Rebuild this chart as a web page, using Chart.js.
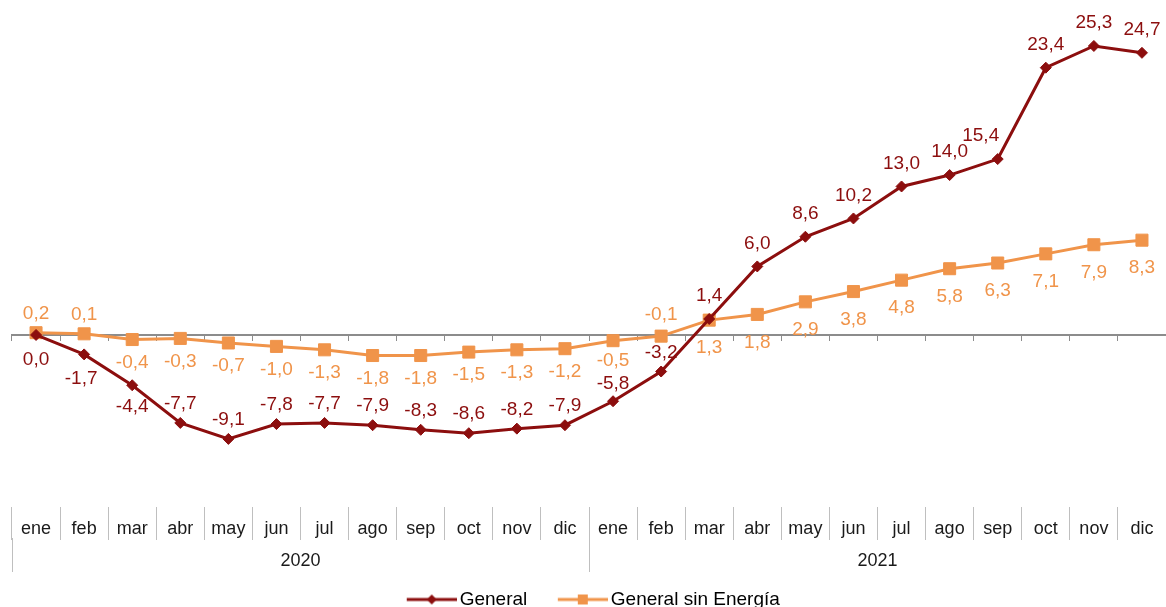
<!DOCTYPE html>
<html>
<head>
<meta charset="utf-8">
<script src="https://cdn.jsdelivr.net/npm/chart.js@4.4.0/dist/chart.umd.min.js"></script>
<style>
  html, body { margin: 0; padding: 0; background: #fff; overflow: hidden; }
  #wrap { width: 1166px; height: 607px; }
  canvas { display: block; }
</style>
</head>
<body>
<div id="wrap"><canvas id="myChart"></canvas></div>
<script>
var months = ["ene", "feb", "mar", "abr", "may", "jun", "jul", "ago", "sep", "oct", "nov", "dic",
              "ene", "feb", "mar", "abr", "may", "jun", "jul", "ago", "sep", "oct", "nov", "dic"];
var years = ["2020", "2021"];

var general = [0.0, -1.7, -4.4, -7.7, -9.1, -7.8, -7.7, -7.9, -8.3, -8.6, -8.2, -7.9,
               -5.8, -3.2, 1.4, 6.0, 8.6, 10.2, 13.0, 14.0, 15.4, 23.4, 25.3, 24.7];
var sinEnergia = [0.2, 0.1, -0.4, -0.3, -0.7, -1.0, -1.3, -1.8, -1.8, -1.5, -1.3, -1.2,
                  -0.5, -0.1, 1.3, 1.8, 2.9, 3.8, 4.8, 5.8, 6.3, 7.1, 7.9, 8.3];

// where each value label sits: a = above the point, b = below
var sideGeneral = "bbbaaaaaaaaaaaaaaaaaaaaa".split("");
var sideSinEnergia = "aabbbbbbbbbbbabbbbbbbbbb".split("");

var darkRed = "#8c0e0e";
var orange = "#f0944a";
var font = '"Liberation Sans", Arial, sans-serif';

function legendIcon(color, shape) {
  var c = document.createElement("canvas");
  c.width = 77; c.height = 14;
  var g = c.getContext("2d");
  g.strokeStyle = color; g.lineWidth = 3;
  g.beginPath(); g.moveTo(27, 7); g.lineTo(77, 7); g.stroke();
  g.fillStyle = color;
  g.beginPath();
  if (shape === "diamond") {
    g.moveTo(52, 2); g.lineTo(57, 7); g.lineTo(52, 12); g.lineTo(47, 7); g.closePath();
  } else {
    g.rect(47, 2, 10, 10);
  }
  g.fill();
  return c;
}

function fmt(v) {
  return v.toFixed(1).replace(".", ",");
}

// distance from point to label centre, by side and sign of the value
function labelDy(ds, j) {
  var v = ds.data[j];
  var g = ds.labelGap;
  if (ds.labelDy[j] !== undefined) return ds.labelDy[j];
  if (ds.labelSide[j] === "a") return -(v < 0 ? g.aboveNeg : g.abovePos);
  return v < 0 ? g.belowNeg : g.belowPos;
}

// value labels next to every point
var valueLabels = {
  id: "valueLabels",
  afterDatasetsDraw: function (chart) {
    var ctx = chart.ctx;
    ctx.save();
    ctx.font = "19px " + font;
    ctx.textAlign = "center";
    ctx.textBaseline = "middle";
    chart.data.datasets.forEach(function (ds, i) {
      var meta = chart.getDatasetMeta(i);
      ctx.fillStyle = ds.borderColor;
      meta.data.forEach(function (pt, j) {
        var dx = ds.labelDx[j] || 0;
        ctx.fillText(fmt(ds.data[j]), pt.x + dx, pt.y + labelDy(ds, j));
      });
    });
    ctx.restore();
  }
};

var icons = [legendIcon(darkRed, "diamond"), legendIcon(orange, "square")];

new Chart("myChart", {
  type: "line",
  data: {
    labels: months,
    datasets: [{
      label: "General",
      data: general,
      borderColor: darkRed,
      backgroundColor: darkRed,
      borderWidth: 3,
      pointStyle: "rectRot",
      pointRadius: 5.5,
      pointBorderWidth: 1,
      tension: 0,
      labelSide: sideGeneral,
      labelGap: { aboveNeg: 19, abovePos: 23, belowNeg: 24, belowPos: 24 },
      labelDx: { 1: -3, 20: -17 },
      labelDy: { 0: 25, 2: 22, 12: -17 }
    }, {
      label: "General sin Energía",
      data: sinEnergia,
      borderColor: orange,
      backgroundColor: orange,
      borderWidth: 3,
      pointStyle: "rect",
      pointRadius: 8.5,
      pointBorderWidth: 1,
      tension: 0,
      labelSide: sideSinEnergia,
      labelGap: { aboveNeg: 21, abovePos: 19, belowNeg: 23, belowPos: 28 },
      labelDx: {},
      labelDy: { 12: 20 }
    }]
  },
  options: {
    responsive: true,
    maintainAspectRatio: false,
    animation: false,
    devicePixelRatio: 1,
    layout: { autoPadding: false, padding: { top: 10, left: -2, right: -2, bottom: -12 } },
    scales: {
      y: {
        display: true,
        min: -15.06,
        max: 28.45,
        grid: { display: false },
        border: { display: false },
        ticks: { display: false },
        afterFit: function (scale) { scale.width = 14; }
      },
      x: {
        type: "category",
        position: "bottom",
        offset: true,
        weight: 0,
        border: { display: false },
        grid: { offset: true, drawOnChartArea: false, drawTicks: true, tickLength: 33, color: "#bfbfbf" },
        ticks: {
          autoSkip: false, maxRotation: 0, padding: -20, color: "#1a1a1a",
          font: { family: font, size: 18, lineHeight: 1 }
        },
        afterFit: function (scale) { scale.height = 31; }
      },
      x2: {
        type: "category",
        axis: "x",
        position: "bottom",
        labels: years,
        offset: true,
        weight: 1,
        border: { display: false },
        grid: { offset: true, drawOnChartArea: false, drawTicks: true, tickLength: 34, color: "#bfbfbf" },
        ticks: {
          autoSkip: false, maxRotation: 0, padding: -30, color: "#1a1a1a",
          font: { family: font, size: 18, lineHeight: "38px" }
        },
        afterFit: function (scale) { scale.height = 42; }
      },
      xz: {
        type: "category",
        axis: "x",
        position: { y: 0 },
        labels: months,
        offset: true,
        border: { display: true, color: "#8c8c8c", width: 2 },
        grid: { offset: true, drawOnChartArea: false, drawTicks: true, tickLength: 5, color: "#8c8c8c" },
        ticks: { display: false },
        afterFit: function (scale) { scale.height = 0; }
      }
    },
    plugins: {
      tooltip: { enabled: false },
      legend: {
        position: "bottom",
        labels: {
          usePointStyle: true,
          pointStyleWidth: 64,
          padding: 10,
          color: "#000",
          font: { family: font, size: 19 },
          generateLabels: function (chart) {
            return chart.data.datasets.map(function (ds, i) {
              return {
                text: ds.label,
                pointStyle: icons[i],
                fillStyle: ds.borderColor,
                strokeStyle: ds.borderColor,
                lineWidth: 0,
                hidden: false,
                datasetIndex: i
              };
            });
          }
        }
      }
    }
  },
  plugins: [valueLabels]
});
</script>
</body>
</html>
